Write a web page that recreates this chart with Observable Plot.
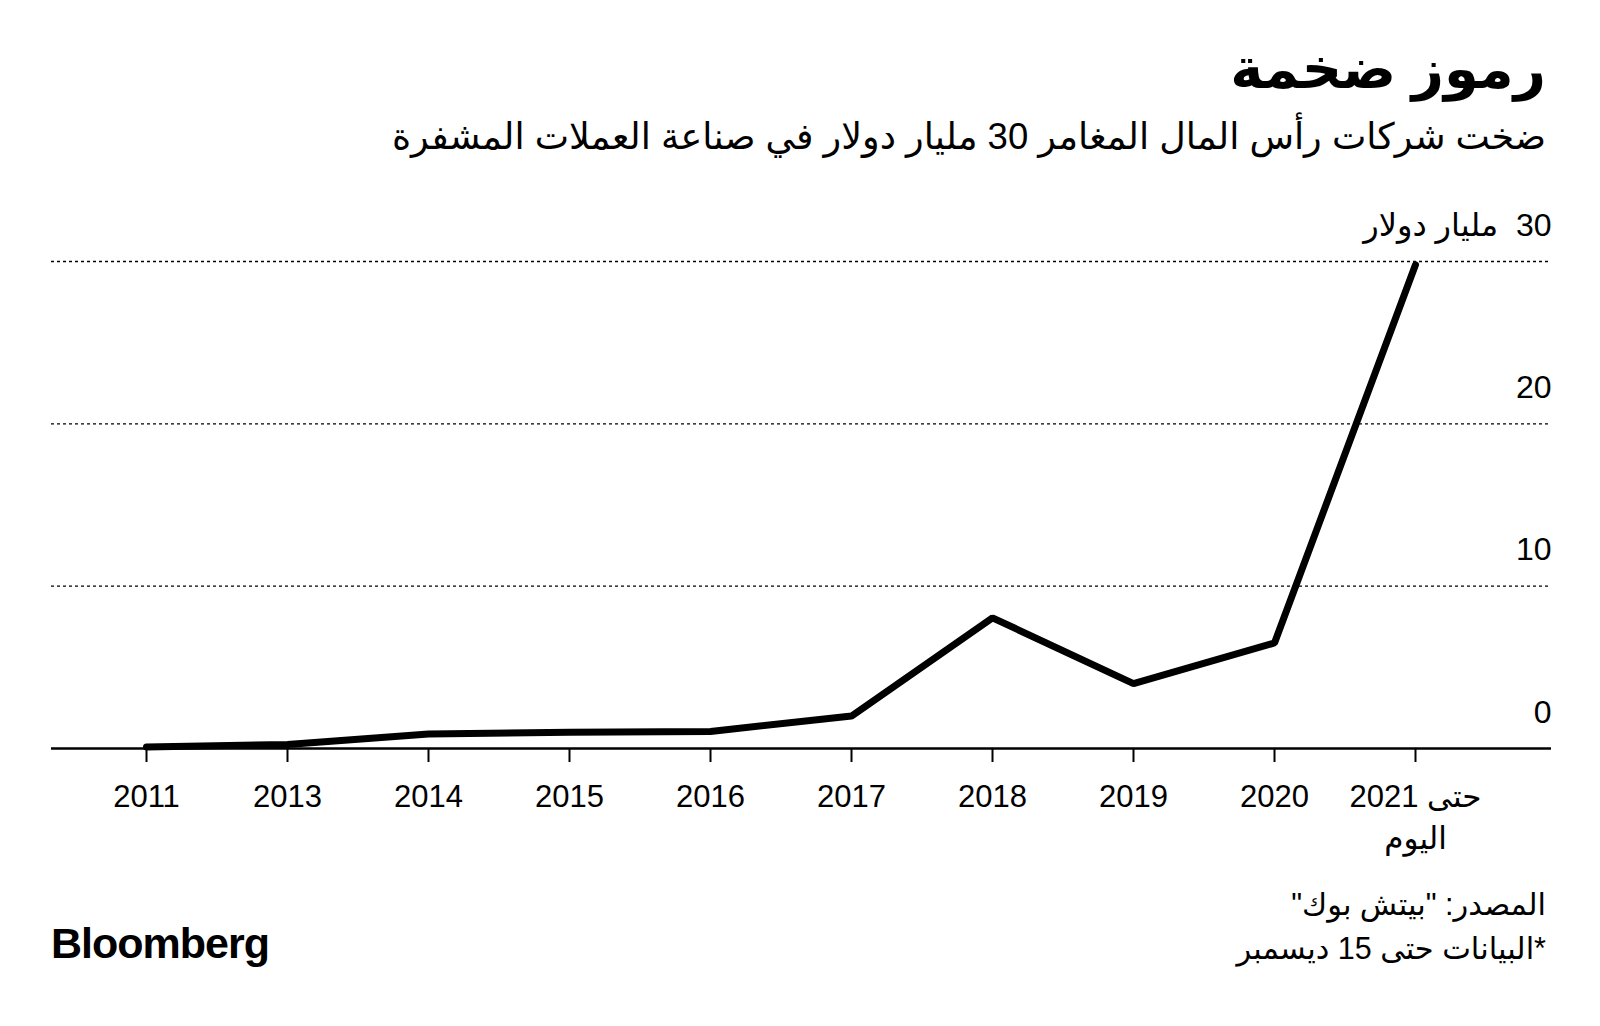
<!DOCTYPE html>
<html>
<head>
<meta charset="utf-8">
<script src="https://cdn.jsdelivr.net/npm/d3@7"></script>
<script src="https://cdn.jsdelivr.net/npm/@observablehq/plot@0.6"></script>
<style>
  html, body { margin: 0; padding: 0; background: #fff; }
  #page { position: relative; width: 1600px; height: 1026px; overflow: hidden; background: #fff; color: #000; font-family: "Liberation Sans", "DejaVu Sans", sans-serif; }
  .rtl { position: absolute; right: 54px; direction: rtl; text-align: right; white-space: nowrap; }
  #title { top: 35px; font-size: 56px; font-weight: bold; line-height: 1.2; }
  #subtitle { top: 113px; font-size: 36.5px; line-height: 1.3; }
  #footer { top: 882px; font-size: 30.5px; line-height: 44px; }
  #logo { position: absolute; left: 51px; top: 919px; font-size: 43px; font-weight: bold; letter-spacing: -1px; font-family: "Liberation Sans", Arial, sans-serif; }
  #chart { position: absolute; left: 0; top: 180px; }
</style>
</head>
<body>
<div id="page">
  <div id="title" class="rtl"></div>
  <div id="subtitle" class="rtl"></div>
  <div id="chart"></div>
  <div id="footer" class="rtl"></div>
  <div id="logo">Bloomberg</div>
</div>
<script>
// ---- Data ----
const periods = ["2011", "2013", "2014", "2015", "2016", "2017", "2018", "2019", "2020", "2021 حتى\nاليوم"];
const values = [0.1, 0.25, 0.9, 1.0, 1.05, 2.0, 8.05, 4.0, 6.5, 29.8];
const yTicks = [0, 10, 20, 30];
const yGrid = [10, 20, 30];
const yUnit = "مليار دولار";
const titleText = "رموز ضخمة";
const subtitleText = "ضخت شركات رأس المال المغامر 30 مليار دولار في صناعة العملات المشفرة";
const sourceText = "المصدر: \"بيتش بوك\"";
const noteText = "*البيانات حتى 15 ديسمبر";

document.getElementById("title").textContent = titleText;
document.getElementById("subtitle").textContent = subtitleText;
[sourceText, noteText].forEach(t => {
  const d = document.createElement("div");
  d.textContent = t;
  document.getElementById("footer").appendChild(d);
});

const data = periods.map((p, i) => ({period: p, value: values[i]}));

const chart = Plot.plot({
  width: 1600,
  height: 678,
  marginTop: 81,
  marginBottom: 110,
  marginLeft: 51,
  marginRight: 49,
  style: {fontFamily: "'Liberation Sans', 'DejaVu Sans', sans-serif", fontSize: "32px", background: "white", color: "black", overflow: "visible"},
  x: {type: "point", domain: periods, range: [146, 1415], padding: 0},
  y: {domain: [0, 30]},
  marks: [
    Plot.gridY(yGrid, {stroke: "black", strokeOpacity: 1, strokeWidth: 1.3, strokeDasharray: "3,3"}),
    Plot.axisY(yTicks, {
      anchor: "right", tickSize: 0, tickPadding: 0, textAnchor: "end", dy: -36, label: null,
      fontSize: 32,
      tickFormat: d => d === 30 ? "\u200F" + d + "\u00A0\u00A0" + yUnit : String(d)
    }),
    Plot.axisX({anchor: "bottom", tickSize: 14, tickPadding: 15, strokeWidth: 2, label: null, fontSize: 31, lineHeight: 1.35}),
    Plot.ruleY([0], {stroke: "black", strokeWidth: 2.5}),
    Plot.line(data, {x: "period", y: "value", stroke: "black", strokeWidth: 7, strokeLinejoin: "miter", strokeLinecap: "round"})
  ]
});
document.getElementById("chart").appendChild(chart);
</script>
</body>
</html>
